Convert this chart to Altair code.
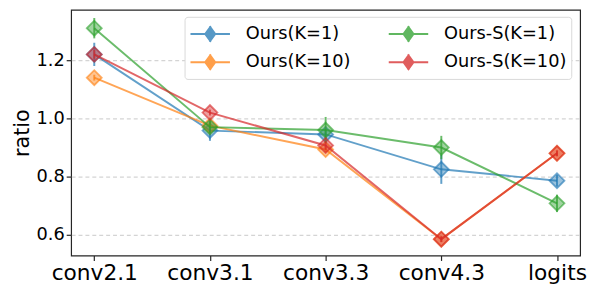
import altair as alt
import pandas as pd

layers = ["conv2.1", "conv3.1", "conv3.3", "conv4.3", "logits"]
series_names = ["Ours(K=1)", "Ours(K=10)", "Ours-S(K=1)", "Ours-S(K=10)"]
colors = ["#1f77b4", "#ff7f0e", "#2ca02c", "#d62728"]

ours_k1 = [1.22, 0.958, 0.945, 0.825, 0.786]
ours_k1_err = [0.04, 0.035, 0.015, 0.05, 0.02]
ours_k10 = [1.14, 0.975, 0.893, 0.585, 0.88]
ours_k10_err = [0.01, 0.01, 0.01, 0.01, 0.01]
ours_s_k1 = [1.31, 0.97, 0.96, 0.90, 0.708]
ours_s_k1_err = [0.035, 0.02, 0.045, 0.04, 0.03]
ours_s_k10 = [1.22, 1.02, 0.907, 0.585, 0.88]
ours_s_k10_err = [0.015, 0.01, 0.015, 0.01, 0.01]

values = [ours_k1, ours_k10, ours_s_k1, ours_s_k10]
errors = [ours_k1_err, ours_k10_err, ours_s_k1_err, ours_s_k10_err]

color_scale = alt.Scale(domain=series_names, range=colors)
x_enc = alt.X("layer:N", sort=layers, scale=alt.Scale(type="point", padding=0.2),
              axis=alt.Axis(title=None, labelAngle=0, labelFontSize=22, grid=False))
y_scale = alt.Scale(domain=[0.5288, 1.3729], nice=False, zero=False)
y_axis = alt.Axis(title="ratio", values=[0.6, 0.8, 1.0, 1.2], format=".1f",
                  labelFontSize=18, titleFontSize=21, grid=True,
                  gridDash=[4, 3], gridColor="#c8c8c8", gridWidth=1, titlePadding=4)

legend_path = "M-1.667,0H1.667M0,-0.67V0.67M0,-0.58L0.42,0L0,0.58L-0.42,0Z"

charts = []
for name, vals, errs in zip(series_names, values, errors):
    df = pd.DataFrame({"layer": layers, "series": name, "value": vals, "err": errs})
    base = alt.Chart(df).transform_calculate(
        lo="datum.value - datum.err", hi="datum.value + datum.err"
    )
    color = alt.Color("series:N", scale=color_scale, sort=series_names,
                      legend=alt.Legend(title=None, orient="none", legendX=115, legendY=7,
                                        columns=2, symbolType=legend_path, symbolSize=576,
                                        symbolStrokeWidth=2, symbolOpacity=0.75,
                                        symbolOffset=9,
                                        labelFontSize=18, labelOffset=23, columnPadding=33,
                                        rowPadding=3, padding=4, strokeColor="#d8d8d8",
                                        fillColor="white", cornerRadius=3, labelLimit=300))
    stroke = alt.Stroke("series:N", scale=color_scale, sort=series_names, legend=None)
    line = base.mark_line(strokeWidth=2, opacity=0.7).encode(
        x=x_enc, y=alt.Y("value:Q", scale=y_scale, axis=y_axis), color=color)
    rule = base.mark_rule(strokeWidth=2, opacity=0.7).encode(
        x=x_enc, y=alt.Y("lo:Q", scale=y_scale, axis=y_axis), y2="hi:Q", color=color)
    pts = base.mark_point(shape="diamond", size=230, filled=True, fillOpacity=0.45,
                          strokeOpacity=0.6, strokeWidth=1.8).encode(
        x=x_enc, y=alt.Y("value:Q", scale=y_scale, axis=y_axis), color=color, stroke=stroke)
    charts += [line, rule, pts]

chart = alt.layer(*charts).properties(
    width=516, height=249,
    autosize=alt.AutoSizeParams(type="none"),
    padding={"left": 64, "top": 0, "right": 9, "bottom": 30},
).configure_view(stroke="#262626", strokeWidth=1.2).configure_axis(
    labelFont="DejaVu Sans", titleFont="DejaVu Sans", labelColor="black",
    titleColor="black", tickColor="#262626", tickSize=5, tickWidth=1.2,
    domain=False, labelPadding=2, titleFontWeight="normal"
).configure_legend(labelFont="DejaVu Sans", labelColor="black")

chart.save("out.html", embed_options={"renderer": "svg", "actions": False})
